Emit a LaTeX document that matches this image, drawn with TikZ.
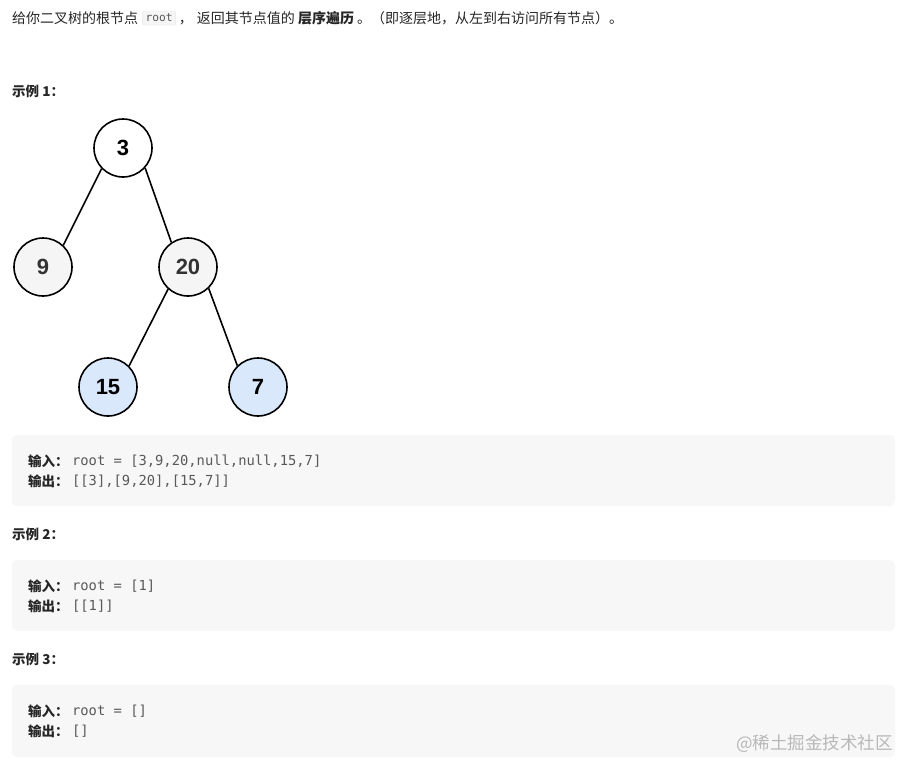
\documentclass[tikz,border=0pt]{standalone}
\usepackage{fontspec}
\setmainfont{Noto Sans CJK SC}
\newfontfamily\codefont{DejaVu Sans Mono}
\newfontfamily\numfont{Liberation Sans}
\definecolor{maintxt}{HTML}{262626}
\definecolor{codetxt}{HTML}{595959}
\definecolor{boxbg}{HTML}{F7F7F7}
\definecolor{inlinebg}{HTML}{F5F5F5}
\definecolor{inlineborder}{HTML}{E6E6E6}
\definecolor{graynode}{HTML}{F5F5F5}
\definecolor{bluenode}{HTML}{DAE8FC}
\definecolor{wmark}{HTML}{B8B8B8}
\tikzset{
  txt/.style={inner sep=0pt, anchor=west, text=maintxt, font=\fontsize{14}{16}\selectfont},
  head/.style={inner sep=0pt, anchor=west, text=maintxt, font=\fontsize{13.5}{15}\selectfont\bfseries},
  codeln/.style={inner sep=0pt, anchor=west, text=codetxt, font=\fontsize{13.8}{16}\codefont},
  inlinecode/.style={inner xsep=3pt, inner ysep=3pt, fill=inlinebg, draw=inlineborder, rounded corners=2pt, text=codetxt, font=\fontsize{11.2}{13}\codefont},
  treenode/.style={circle, draw=black, line width=1.6pt, minimum size=58pt, inner sep=0pt, font=\fontsize{22}{24}\numfont\bfseries},
  edge/.style={line width=1.6pt, draw=black}
}
\begin{document}
\begin{tikzpicture}[x=1pt,y=-1pt]
\useasboundingbox (0,0) rectangle (917,776);
\fill[white] (0,0) rectangle (917,776);
% intro line
\node[txt] (t1) at (12,18) {给你二叉树的根节点};
\node[inlinecode, anchor=west] (t2) at ([xshift=4pt]t1.east) {root};
\node[txt] (t3) at ([xshift=3pt]t2.east) {，\hspace{4pt}返回其节点值的 \textbf{层序遍历} 。（即逐层地，从左到右访问所有节点）。};
% example 1
\node[head] (h1) at (12,91) {示例 1：};
\node[treenode, fill=white] (n3) at (123,148) {3};
\node[treenode, fill=graynode, text=black!80] (n9) at (43,267) {9};
\node[treenode, fill=graynode, text=black!80] (n20) at (188,267) {20};
\node[treenode, fill=bluenode] (n15) at (108,387) {15};
\node[treenode, fill=bluenode] (n7) at (258,387) {7};
\draw[edge] (n3.224) -- (n9.47);
\draw[edge] (n3.318) -- (n20.124);
\draw[edge] (n20.228) -- (n15.45);
\draw[edge] (n20.314) -- (n7.134);
\fill[boxbg, rounded corners=5pt] (12,435) rectangle (895,506);
\node[head] (i1) at (28,461) {输入：};
\node[codeln] at ([xshift=3pt]i1.east) {root = [3,9,20,null,null,15,7]};
\node[head] (o1) at (28,481) {输出：};
\node[codeln] at ([xshift=3pt]o1.east) {[[3],[9,20],[15,7]]};
% example 2
\node[head] (h2) at (12,534) {示例 2：};
\fill[boxbg, rounded corners=5pt] (12,560) rectangle (895,631);
\node[head] (i2) at (28,586) {输入：};
\node[codeln] at ([xshift=3pt]i2.east) {root = [1]};
\node[head] (o2) at (28,606) {输出：};
\node[codeln] at ([xshift=3pt]o2.east) {[[1]]};
% example 3
\node[head] (h3) at (12,659) {示例 3：};
\fill[boxbg, rounded corners=5pt] (12,685) rectangle (895,757);
\node[head] (i3) at (28,711) {输入：};
\node[codeln] at ([xshift=3pt]i3.east) {root = []};
\node[head] (o3) at (28,731) {输出：};
\node[codeln] at ([xshift=3pt]o3.east) {[]};
% watermark
\node[inner sep=0pt, anchor=east, text=wmark, font=\fontsize{17.5}{19}\selectfont] (wm) at (893,744) {@稀土掘金技术社区};
\end{tikzpicture}
\end{document}
